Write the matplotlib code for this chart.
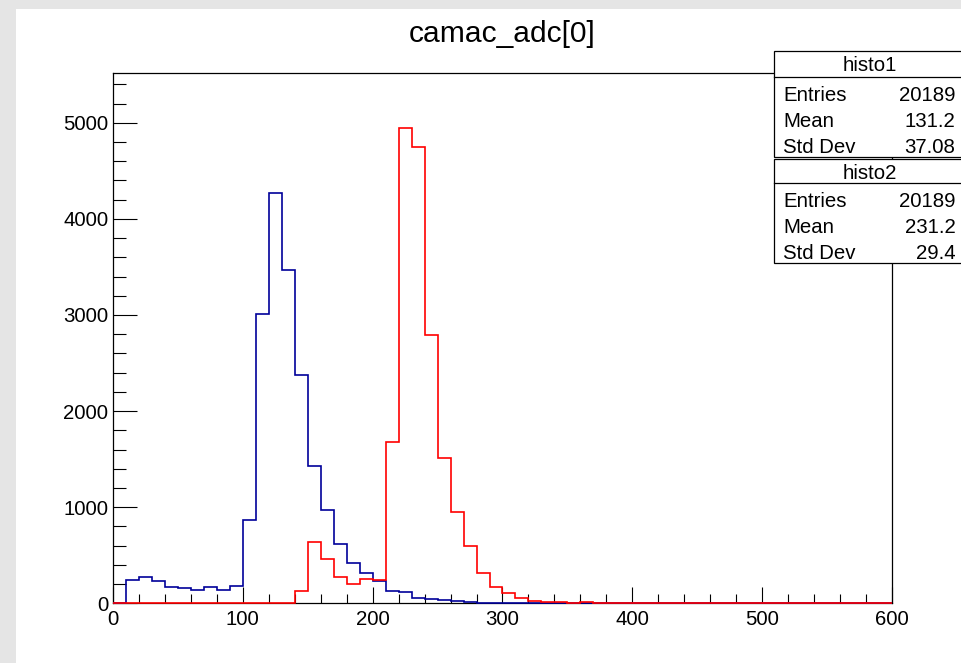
import numpy as np
import matplotlib
matplotlib.use("Agg")
import matplotlib.pyplot as plt
from matplotlib.patches import Rectangle
from matplotlib.lines import Line2D

plt.rcParams['font.family'] = ['Liberation Sans', 'DejaVu Sans']

# ---- data ----
title = "camac_adc[0]"
bin_edges = np.arange(0, 610, 10)
histo1 = [7, 243, 278, 233, 174, 156, 139, 174, 139, 184,
          868, 3014, 4271, 3472, 2378, 1424, 972, 615, 424, 313,
          233, 132, 118, 59, 45, 38, 24, 17, 3, 2,
          0, 0, 0, 0, 0, 0, 0, 0, 0, 0,
          0, 0, 0, 0, 0, 0, 0, 0, 0, 0,
          0, 0, 0, 0, 0, 0, 0, 0, 0, 0]
histo2 = [0, 0, 0, 0, 0, 0, 0, 0, 0, 0,
          0, 0, 0, 0, 132, 639, 465, 278, 205, 250,
          243, 1674, 4951, 4750, 2788, 1507, 955, 601, 313, 174,
          104, 59, 28, 17, 14, 3, 14, 0, 0, 0,
          0, 0, 0, 0, 0, 0, 0, 0, 0, 0,
          0, 0, 0, 0, 0, 0, 0, 0, 0, 0]
x_ticks = [0, 100, 200, 300, 400, 500, 600]
y_ticks = [0, 1000, 2000, 3000, 4000, 5000]
stat_names = ["Entries", "Mean", "Std Dev"]
stats1_title = "histo1"
stats1_values = ["20189", "131.2", "37.08"]
stats2_title = "histo2"
stats2_values = ["20189", "231.2", "29.4"]

# ---- figure ----
W, H = 961, 663
fig = plt.figure(figsize=(W / 100, H / 100), dpi=100, facecolor='#e5e5e5')

def fx(px):
    return px / W

def fy(py):
    return 1 - py / H

# white canvas
fig.patches.append(Rectangle((fx(16), 0), 1 - fx(16), fy(9), transform=fig.transFigure,
                             facecolor='white', edgecolor='none', zorder=-10))

L, R, T, B = 113, 892, 73.3, 603.3
ax = fig.add_axes([fx(L), fy(B), fx(R) - fx(L), fy(T) - fy(B)])
ax.set_zorder(1)
ax.set_xlim(0, 600)
ax.set_ylim(0, 5515)

ax.stairs(histo1, bin_edges, color='#000099', linewidth=1.2, baseline=0, zorder=3, clip_on=False)
ax.stairs(histo2, bin_edges, color='#ff0000', linewidth=1.2, baseline=0, zorder=4, clip_on=False)

for s in ax.spines.values():
    s.set_linewidth(0.9)
    s.set_color('black')

ax.set_xticks(x_ticks)
ax.set_yticks(y_ticks)
ax.set_xticks(np.arange(0, 601, 20), minor=True)
ax.set_yticks(np.arange(0, 5501, 200), minor=True)
ax.tick_params(axis='x', which='major', direction='in', length=11.5, width=0.8, pad=5, labelsize=14.7)
ax.tick_params(axis='x', which='minor', direction='in', length=6.5, width=0.8)
ax.tick_params(axis='y', which='major', direction='in', length=17.3, width=0.8, pad=3.5, labelsize=14.7)
ax.tick_params(axis='y', which='minor', direction='in', length=9.4, width=0.8)
ax.set_xticklabels([str(v) for v in x_ticks])
ax.set_yticklabels([str(v) for v in y_ticks])

fig.text(fx(502.5), fy(41.7), title, ha='center', va='baseline', fontsize=21.6, color='black')

# ---- stats boxes ----
box_l, box_r = 774.3, 975
fs = 14.7

def stats_box(top, bottom, title_txt, title_base, line_y, bases, values):
    fig.add_artist(Rectangle((fx(box_l), fy(bottom)), fx(box_r) - fx(box_l), fy(top) - fy(bottom),
                             transform=fig.transFigure, facecolor='white', edgecolor='black',
                             linewidth=0.9, zorder=5))
    fig.add_artist(Line2D([fx(box_l), fx(box_r)], [fy(line_y), fy(line_y)], color='black',
                          linewidth=0.9, transform=fig.transFigure, zorder=6))
    fig.text(fx(870), fy(title_base), title_txt, ha='center', va='baseline', fontsize=fs, zorder=7)
    for name, val, b in zip(stat_names, values, bases):
        fig.text(fx(783.3), fy(b), name, ha='left', va='baseline', fontsize=fs, zorder=7)
        fig.text(fx(955.5), fy(b), val, ha='right', va='baseline', fontsize=fs, zorder=7)

stats_box(50.7, 157.3, stats1_title, 70.7, 76.7, [100.7, 127.3, 153.3], stats1_values)
stats_box(158.6, 263.3, stats2_title, 179.3, 182.7, [206.7, 233.3, 259.3], stats2_values)

fig.savefig('out.png', dpi=100, facecolor=fig.get_facecolor())
